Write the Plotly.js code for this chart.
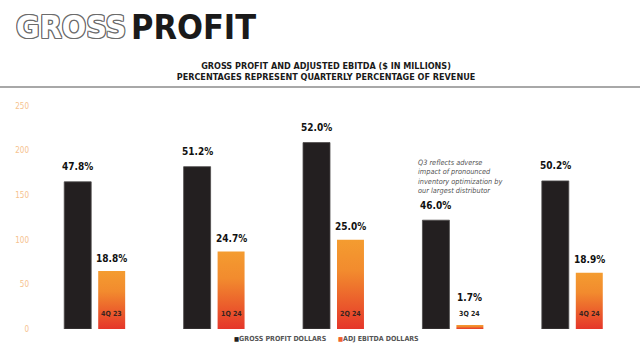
<!DOCTYPE html>
<html>
<head>
<meta charset="utf-8">
<script src="https://cdn.plot.ly/plotly-3.0.1.min.js"></script>
<style>
  html, body { margin: 0; padding: 0; background: #fff; }
  #chart { width: 640px; height: 349px; }
</style>
</head>
<body>
<div id="chart"></div>
<script>
// ---- data ----
const quarters = ['4Q 23', '1Q 24', '2Q 24', '3Q 24', '4Q 24'];
const grossProfit = [165, 182, 209, 122, 166];
const adjEbitda = [65, 87, 100, 4.5, 63];
const grossPct = ['47.8%', '51.2%', '52.0%', '46.0%', '50.2%'];
const adjPct = ['18.8%', '24.7%', '25.0%', '1.7%', '18.9%'];
const yTicks = [0, 50, 100, 150, 200, 250];

const FONT = '"DejaVu Sans Condensed", "DejaVu Sans", sans-serif';

const W = 640, H = 349;
const M = { l: 35, r: 8, t: 106, b: 20 };
const PW = W - M.l - M.r, PH = H - M.t - M.b;
const px = x => (x - M.l) / PW;
const py = y => (H - M.b - y) / PH;

const traces = [
  {
    type: 'bar', name: 'GROSS PROFIT DOLLARS', x: quarters, y: grossProfit,
    marker: { color: '#231f20', line: { color: '#4d4a4a', width: 0.8 } },
    hoverinfo: 'skip'
  },
  {
    type: 'bar', name: 'ADJ EBITDA DOLLARS', x: quarters, y: adjEbitda,
    marker: { color: '#ee6a2c', line: { width: 0 } },
    hoverinfo: 'skip'
  }
];

const annotations = [];
quarters.forEach((q, i) => {
  annotations.push({
    x: q, y: grossProfit[i], xref: 'x', yref: 'y', text: grossPct[i],
    showarrow: false, xshift: -17, yshift: 15, yanchor: 'middle',
    font: { family: FONT, size: 10, color: '#111', weight: 'bold' }
  });
  // short bars: lift the percentage above the in-bar quarter label
  annotations.push({
    x: q, y: adjEbitda[i], xref: 'x', yref: 'y', text: adjPct[i],
    showarrow: false, xshift: 17, yshift: adjEbitda[i] < 20 ? 27 : 13, yanchor: 'middle',
    font: { family: FONT, size: 10, color: '#111', weight: 'bold' }
  });
  annotations.push({
    x: q, y: 0, xref: 'x', yref: 'y', text: q,
    showarrow: false, xshift: 17, yshift: 15, yanchor: 'middle',
    font: { family: FONT, size: 7, color: adjEbitda[i] < 20 ? '#222' : '#3a2420', weight: 'bold' }
  });
});

// Big heading
annotations.push({
  xref: 'paper', yref: 'paper', x: px(14), y: py(26.5), xanchor: 'left', yanchor: 'middle',
  text: 'GROSS', showarrow: false,
  font: { family: FONT, size: 32, color: '#ffffff', weight: 'bold',
          shadow: '1px 0 0 #6b6b6b, -1px 0 0 #6b6b6b, 0 1px 0 #6b6b6b, 0 -1px 0 #6b6b6b, 1px 1px 0 #6b6b6b, -1px -1px 0 #6b6b6b, 1px -1px 0 #6b6b6b, -1px 1px 0 #6b6b6b' }
});
annotations.push({
  xref: 'paper', yref: 'paper', x: px(129), y: py(26.5), xanchor: 'left', yanchor: 'middle',
  text: 'PROFIT', showarrow: false,
  font: { family: FONT, size: 34, color: '#1a1a1a', weight: 'bold' }
});

// Note
annotations.push({
  xref: 'paper', yref: 'paper', x: px(416), y: py(156), xanchor: 'left', yanchor: 'top',
  align: 'left', showarrow: false,
  text: 'Q3 reflects adverse<br>impact of pronounced<br>inventory optimization by<br>our largest distributor',
  font: { family: FONT, size: 7.3, color: '#555', style: 'italic' }
});

// Legend
annotations.push({
  xref: 'paper', yref: 'paper', x: px(232), y: py(339), xanchor: 'left', yanchor: 'middle',
  showarrow: false,
  text: '<span style="font-size:6px;color:#231f20">■</span>GROSS PROFIT DOLLARS',
  font: { family: FONT, size: 7, color: '#555', weight: 'bold' }
});
annotations.push({
  xref: 'paper', yref: 'paper', x: px(336), y: py(339), xanchor: 'left', yanchor: 'middle',
  showarrow: false,
  text: '<span style="font-size:6px;color:#f0622c">■</span>ADJ EBITDA DOLLARS',
  font: { family: FONT, size: 7, color: '#555', weight: 'bold' }
});

const layout = {
  width: W, height: H,
  margin: M,
  paper_bgcolor: '#fff', plot_bgcolor: '#fff',
  showlegend: false,
  barmode: 'group', bargap: 0.431, bargroupgap: 0.206,
  title: {
    text: 'GROSS PROFIT AND ADJUSTED EBITDA ($ IN MILLIONS)<br>PERCENTAGES REPRESENT QUARTERLY PERCENTAGE OF REVENUE',
    xref: 'container', yref: 'container', x: 326 / W, y: 1 - 68.5 / H,
    xanchor: 'center', yanchor: 'middle',
    font: { family: FONT, size: 9, color: '#1a1a1a', weight: 'bold' }
  },
  xaxis: {
    type: 'category', range: [-0.5, 4.5], showticklabels: false,
    showgrid: false, zeroline: false, showline: false, ticks: ''
  },
  yaxis: {
    range: [0, 250], tickvals: yTicks, ticktext: yTicks.map(String),
    showgrid: false, zeroline: false, showline: false, ticks: '',
    tickfont: { family: FONT, size: 8, color: '#f6c28e' },
    ticklabelstandoff: 5
  },
  shapes: [{
    type: 'line', xref: 'paper', yref: 'paper',
    x0: px(0), x1: px(640), y0: py(87), y1: py(87),
    line: { color: '#a8a8a8', width: 2 }
  }],
  annotations: annotations
};

const gd = document.getElementById('chart');

function applyGradient() {
  const svg = gd.querySelector('svg.main-svg');
  if (!svg) return;
  const ns = 'http://www.w3.org/2000/svg';
  if (!document.getElementById('adjGrad')) {
    let defs = svg.querySelector('defs');
    if (!defs) { defs = document.createElementNS(ns, 'defs'); svg.insertBefore(defs, svg.firstChild); }
    const lg = document.createElementNS(ns, 'linearGradient');
    lg.setAttribute('id', 'adjGrad');
    lg.setAttribute('x1', '0'); lg.setAttribute('y1', '0');
    lg.setAttribute('x2', '0'); lg.setAttribute('y2', '1');
    [['0%', '#f49c30'], ['35%', '#f28b2e'], ['100%', '#e5362a']].forEach(([o, c]) => {
      const s = document.createElementNS(ns, 'stop');
      s.setAttribute('offset', o); s.setAttribute('stop-color', c);
      lg.appendChild(s);
    });
    defs.appendChild(lg);
  }
  const tr = gd.querySelectorAll('.barlayer .trace');
  if (tr.length > 1) {
    tr[1].querySelectorAll('path').forEach(p => { p.style.fill = 'url(#adjGrad)'; });
  }
}

Plotly.newPlot(gd, traces, layout, { displayModeBar: false, staticPlot: true }).then(() => {
  applyGradient();
  gd.on('plotly_afterplot', applyGradient);
});
</script>
</body>
</html>
